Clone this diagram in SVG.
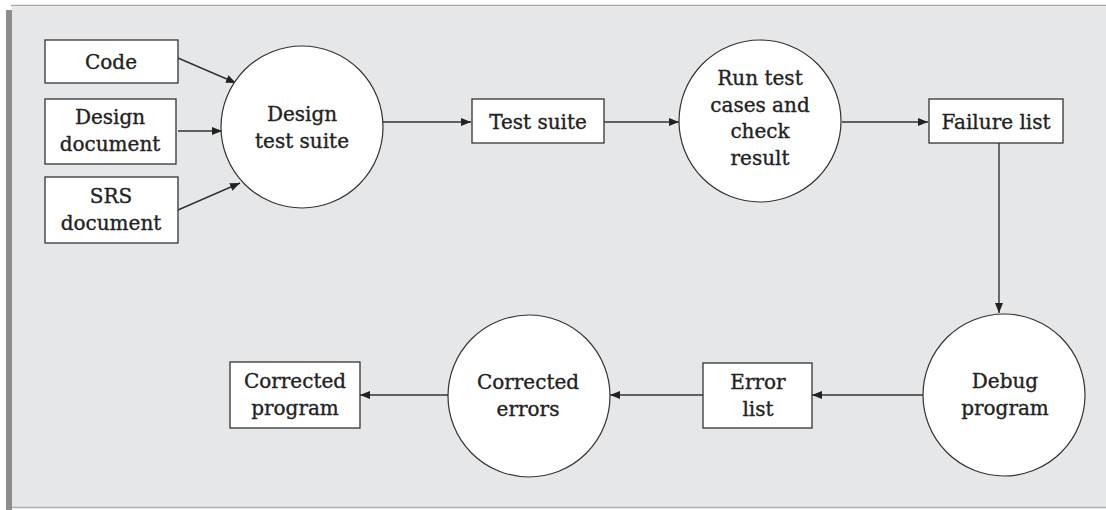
<svg xmlns="http://www.w3.org/2000/svg" width="1106" height="510" viewBox="0 0 1106 510">
<defs>
<marker id="arr" viewBox="0 0 10 8" refX="10" refY="4" markerWidth="10" markerHeight="8" markerUnits="userSpaceOnUse" orient="auto">
<path d="M0,0 L10,4 L0,8 Z" fill="#222"/>
</marker>
</defs>
<style>
.box{fill:#fff;stroke:#333;stroke-width:1.3}
.circ{fill:#fff;stroke:#333;stroke-width:1.2}
.t{font-family:"DejaVu Serif","Liberation Serif",serif;font-size:20px;fill:#222;stroke:#222;stroke-width:0.35;text-anchor:middle}
.ln{fill:none;stroke:#333;stroke-width:1.4;marker-end:url(#arr)}
</style>
<rect x="0" y="0" width="1106" height="510" fill="#ffffff"/>
<rect x="12" y="7" width="1094" height="500" fill="#e6e7e9"/>
<line x1="11" y1="5.5" x2="1106" y2="5.5" stroke="#a9a9a9" stroke-width="1.5"/>
<rect x="6" y="10" width="6" height="500" fill="#8d8d8d"/>
<line x1="12" y1="507.5" x2="1106" y2="507.5" stroke="#b0b0b0" stroke-width="1.5"/>
<g id="connectors">
<line class="ln" x1="178" y1="58" x2="236" y2="83"/>
<line class="ln" x1="178" y1="131" x2="222" y2="131"/>
<line class="ln" x1="178" y1="210" x2="240" y2="183"/>
<line class="ln" x1="383" y1="122" x2="471" y2="122"/>
<line class="ln" x1="604" y1="122" x2="679" y2="122"/>
<line class="ln" x1="842" y1="122" x2="928" y2="122"/>
<line class="ln" x1="999" y1="143" x2="999" y2="313"/>
<line class="ln" x1="923" y1="395" x2="812" y2="395"/>
<line class="ln" x1="703" y1="395" x2="610" y2="395"/>
<line class="ln" x1="448" y1="395" x2="360" y2="395"/>
</g>
<g id="code"><rect class="box" x="45" y="40" width="133" height="43"/><text class="t" x="111" y="69">Code</text></g>
<g id="design-document"><rect class="box" x="45" y="99" width="131" height="65"/><text class="t" x="110" y="124">Design</text><text class="t" x="110" y="151">document</text></g>
<g id="srs-document"><rect class="box" x="45" y="177" width="133" height="66"/><text class="t" x="111" y="203">SRS</text><text class="t" x="111" y="230">document</text></g>
<g id="design-test-suite"><circle class="circ" cx="302" cy="127" r="81"/><text class="t" x="302" y="121">Design</text><text class="t" x="302" y="148">test suite</text></g>
<g id="test-suite"><rect class="box" x="472" y="99" width="132" height="44"/><text class="t" x="538" y="129">Test suite</text></g>
<g id="run-test"><circle class="circ" cx="760" cy="121" r="81"/><text class="t" x="760" y="85">Run test</text><text class="t" x="760" y="112">cases and</text><text class="t" x="760" y="138">check</text><text class="t" x="760" y="165">result</text></g>
<g id="failure-list"><rect class="box" x="929" y="99" width="134" height="44"/><text class="t" x="996" y="129">Failure list</text></g>
<g id="debug-program"><circle class="circ" cx="1004" cy="395" r="81"/><text class="t" x="1005" y="388">Debug</text><text class="t" x="1005" y="415">program</text></g>
<g id="error-list"><rect class="box" x="703" y="363" width="109" height="65"/><text class="t" x="758" y="389">Error</text><text class="t" x="758" y="416">list</text></g>
<g id="corrected-errors"><circle class="circ" cx="529" cy="396" r="81"/><text class="t" x="528" y="389">Corrected</text><text class="t" x="528" y="416">errors</text></g>
<g id="corrected-program"><rect class="box" x="230" y="362" width="130" height="66"/><text class="t" x="295" y="388">Corrected</text><text class="t" x="295" y="415">program</text></g>
</svg>
